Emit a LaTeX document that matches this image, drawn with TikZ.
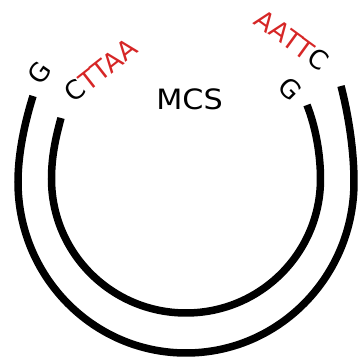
\documentclass[tikz,border=0pt]{standalone}
\usepackage{fontspec}
\setmainfont{DejaVu Sans}
\definecolor{seqred}{RGB}{214,38,38}
\begin{document}
\begin{tikzpicture}[x=1pt,y=-1pt,
  strand/.style={line width=7.5pt,black},
  basek/.style={inner sep=0pt,font=\fontsize{26}{26}\selectfont,text=black},
  baser/.style={inner sep=0pt,font=\fontsize{26}{26}\selectfont,text=seqred},
  label/.style={inner sep=0pt,font=\fontsize{28}{28}\selectfont,xscale=1.08}]
\useasboundingbox (0,0) rectangle (360,358);
% outer strand
\draw[strand] (33,96) .. controls (24,125) and (18,155) .. (18,182)
  arc[start angle=180,end angle=0,x radius=168,y radius=171]
  .. controls (354,152) and (349,117) .. (341,86);
% inner strand
\draw[strand] (61,118) .. controls (55,140) and (51.5,158) .. (51.5,179)
  arc[start angle=180,end angle=0,x radius=134.5,y radius=134]
  .. controls (320.5,155) and (316,128) .. (307,105);
% label
\node[label] (mcs) at (189.5,99) {MCS};
% left bases
\node[basek,rotate=55] (g1) at (40,73) {G};
\node[baser,rotate=38] (s1) at (101,70) {\textcolor{black}{C}TTAA};
% right bases
\node[baser,rotate=-36] (s2) at (292,40) {AATT\textcolor{black}{C}};
\node[basek,rotate=-45] (g2) at (290,89) {G};
\end{tikzpicture}
\end{document}
